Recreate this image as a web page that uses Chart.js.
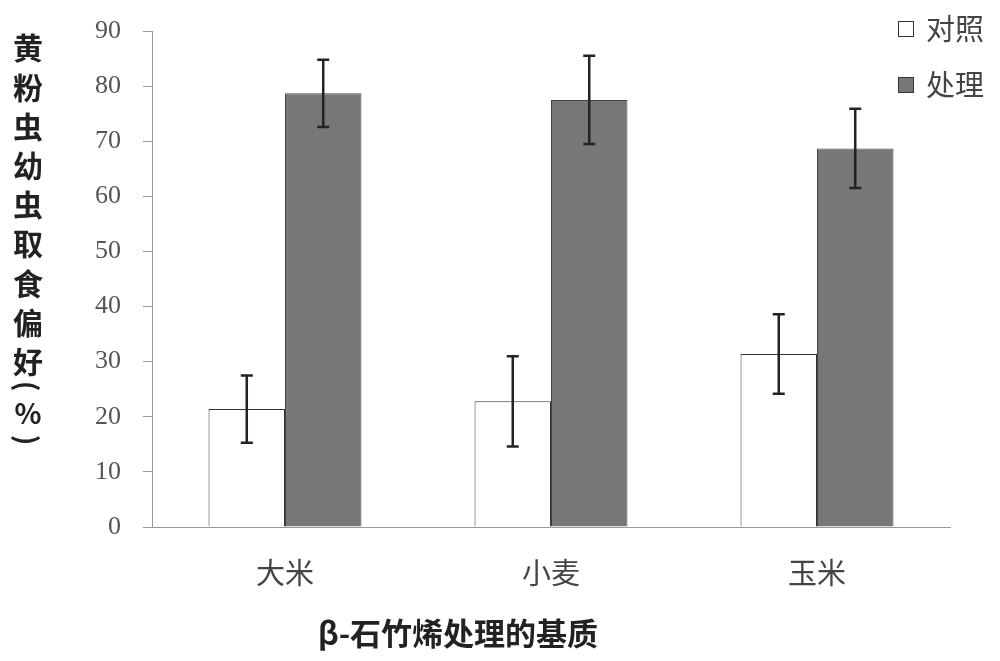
<!DOCTYPE html>
<html>
<head>
<meta charset="utf-8">
<script src="https://cdn.jsdelivr.net/npm/chart.js@4"></script>
<style>
  html, body { margin: 0; padding: 0; background: #fff; }
  #wrap { width: 1000px; height: 661px; position: relative; }
</style>
</head>
<body>
<div id="wrap"><canvas id="chart" width="1000" height="661"></canvas></div>
<script>
const categories = ["大米", "小麦", "玉米"];
const controlValues = [21.4, 22.8, 31.4];
const controlErrors = [6.1, 8.2, 7.2];
const treatValues = [78.7, 77.5, 68.7];
const treatErrors = [6.1, 8.0, 7.2];
const seriesNames = ["对照", "处理"];
const yTitleChars = ["黄", "粉", "虫", "幼", "虫", "取", "食", "偏", "好"];
const xTitle = "β-石竹烯处理的基质";

const serif = "'Liberation Serif', 'DejaVu Serif', serif";
const cjk = "'Noto Sans CJK SC', sans-serif";

const errorBars = {
  id: "errorBars",
  afterDatasetsDraw(chart) {
    const { ctx } = chart;
    const y = chart.scales.y;
    const errs = [controlErrors, treatErrors];
    ctx.save();
    ctx.strokeStyle = "#222";
    ctx.lineWidth = 2.5;
    chart.data.datasets.forEach((ds, di) => {
      chart.getDatasetMeta(di).data.forEach((bar, i) => {
        const v = ds.data[i];
        const top = y.getPixelForValue(v + errs[di][i]);
        const bot = y.getPixelForValue(v - errs[di][i]);
        const x = bar.x;
        ctx.beginPath();
        ctx.moveTo(x, top); ctx.lineTo(x, bot);
        ctx.moveTo(x - 6, top); ctx.lineTo(x + 6, top);
        ctx.moveTo(x - 6, bot); ctx.lineTo(x + 6, bot);
        ctx.stroke();
      });
    });
    ctx.restore();
  }
};

function rotatedChar(ctx, c, x, y) {
  ctx.save();
  ctx.translate(x, y);
  ctx.rotate(Math.PI / 2);
  ctx.fillText(c, 0, 0);
  ctx.restore();
}

const extras = {
  id: "extras",
  afterDraw(chart) {
    const { ctx } = chart;
    ctx.save();
    // y title, stacked characters
    ctx.fillStyle = "#222";
    ctx.font = "bold 30px " + cjk;
    ctx.textAlign = "center";
    ctx.textBaseline = "middle";
    yTitleChars.forEach((c, i) => {
      ctx.fillText(c, 28, 48 + i * 39.2);
    });
    ctx.font = "bold 28px " + cjk;
    rotatedChar(ctx, "(", 28, 386);
    ctx.fillText("%", 28, 413);
    rotatedChar(ctx, ")", 28, 440);
    // x title
    ctx.font = "bold 31px " + cjk;
    ctx.fillText(xTitle, 458, 633);
    // legend
    const fills = ["#ffffff", "#777777"];
    ctx.font = "29px " + cjk;
    ctx.textAlign = "left";
    seriesNames.forEach((name, i) => {
      const yy = 29 + i * 56;
      ctx.fillStyle = fills[i];
      ctx.fillRect(898, yy - 8, 16, 16);
      ctx.strokeStyle = "#333";
      ctx.lineWidth = 1;
      ctx.strokeRect(898.5, yy - 7.5, 15, 15);
      ctx.fillStyle = "#444";
      ctx.fillText(name, 926, yy);
    });
    ctx.restore();
  }
};

new Chart(document.getElementById("chart"), {
  type: "bar",
  data: {
    labels: categories,
    datasets: [
      {
        label: seriesNames[0],
        data: controlValues,
        backgroundColor: "#ffffff",
        borderColor: "#333",
        borderWidth: 1,
      },
      {
        label: seriesNames[1],
        data: treatValues,
        backgroundColor: "#777777",
        borderColor: "#444",
        borderWidth: 1,
      },
    ],
  },
  options: {
    responsive: false,
    animation: false,
    devicePixelRatio: 1,
    layout: { padding: { left: 0, right: 50, top: 31, bottom: 0 } },
    datasets: { bar: { categoryPercentage: 0.575, barPercentage: 1 } },
    scales: {
      y: {
        min: 0,
        max: 90,
        afterFit(scale) {
          scale.width = 152;
          scale.paddingTop = 0;
          scale.paddingBottom = 0;
        },
        ticks: {
          stepSize: 10,
          color: "#555",
          font: { family: serif, size: 26 },
          padding: 22,
        },
        grid: { drawOnChartArea: false, color: "#999", tickLength: 9 },
        border: { color: "#999", width: 1 },
      },
      x: {
        afterFit(scale) { scale.height = 134; },
        ticks: {
          color: "#444",
          font: { family: cjk, size: 29 },
          padding: 29,
        },
        grid: { display: false, tickLength: 0 },
        border: { color: "#999", width: 1 },
      },
    },
    plugins: {
      legend: { display: false },
      tooltip: { enabled: false },
    },
  },
  plugins: [errorBars, extras],
});
</script>
</body>
</html>
